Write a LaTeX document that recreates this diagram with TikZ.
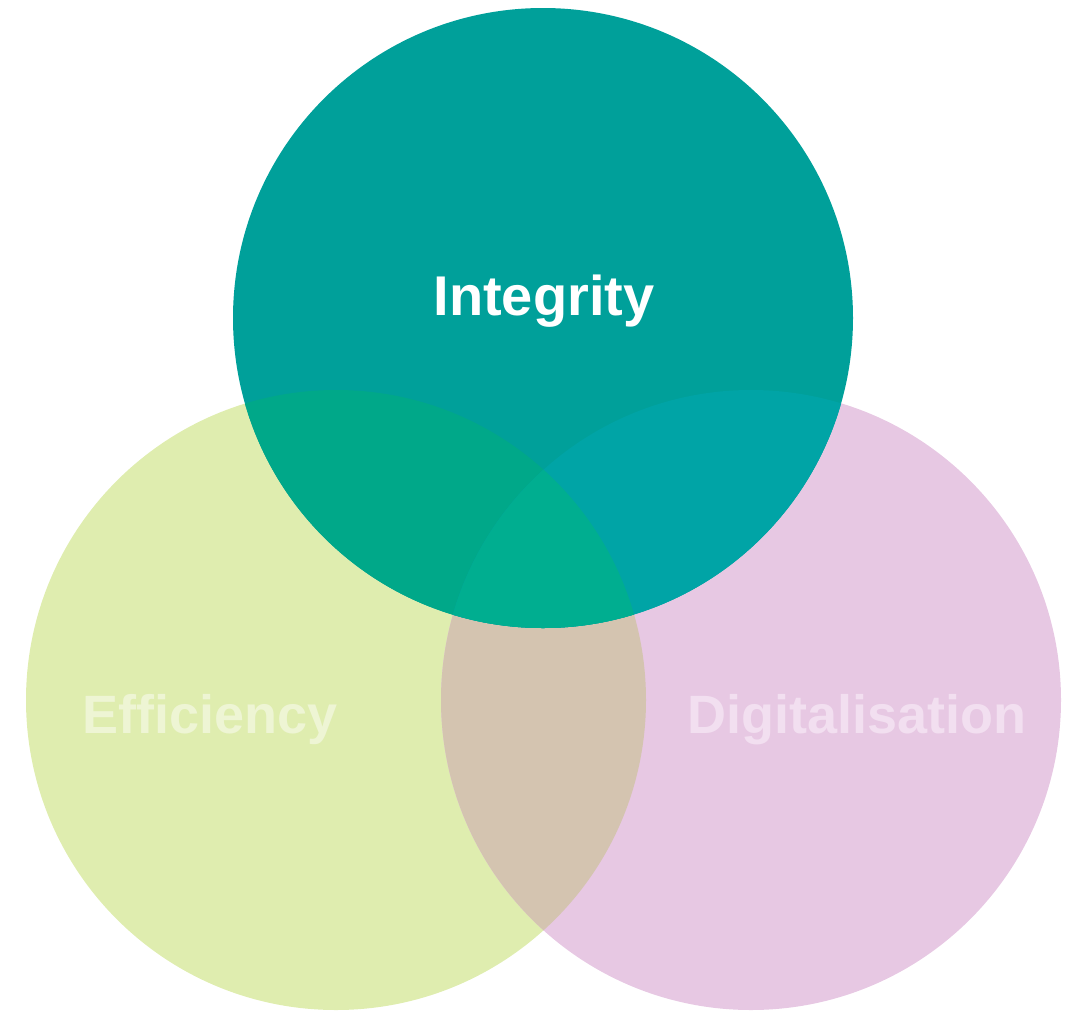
\documentclass[tikz,border=0pt]{standalone}
\usepackage{fontspec}
\setmainfont{Liberation Sans}
\usepackage{xcolor}
\usepackage{tikz}
\definecolor{tealc}{HTML}{00A09A}
\definecolor{greenc}{HTML}{DFEDAF}
\definecolor{pinkc}{HTML}{E7C8E3}
\definecolor{tealgreen}{HTML}{00A889}
\definecolor{tealpink}{HTML}{00A4A6}
\definecolor{greenpink}{HTML}{D4C4B0}
\definecolor{allthree}{HTML}{00AE90}
\definecolor{efftext}{HTML}{EEF5D4}
\definecolor{digtext}{HTML}{F2DFF0}
\tikzset{label/.style={font=\fontsize{54}{60}\selectfont\bfseries}}

\begin{document}
\begin{tikzpicture}[x=1pt, y=-1pt]
\useasboundingbox (0,0) rectangle (1074,1010);
\coordinate (top) at (543,318);
\coordinate (left) at (336,700);
\coordinate (right) at (751,700);

\fill[greenc] (left) circle (310pt);
\fill[pinkc] (right) circle (310pt);
\begin{scope}
\clip (left) circle (310pt);
\fill[greenpink] (right) circle (310pt);
\end{scope}

\fill[tealc] (top) circle (310pt);
\begin{scope}
\clip (top) circle (310pt);
\fill[tealgreen] (left) circle (310pt);
\fill[tealpink] (right) circle (310pt);
\clip (left) circle (310pt);
\fill[allthree] (right) circle (310pt);
\end{scope}

\node[label, white, font=\fontsize{56}{62}\selectfont\bfseries] (integrity) at (544,301) {Integrity};
\node[label, efftext] (efficiency) at (210,720) {Efficiency};
\node[label, digtext] (digital) at (857,720) {Digitalisation};
\end{tikzpicture}
\end{document}
